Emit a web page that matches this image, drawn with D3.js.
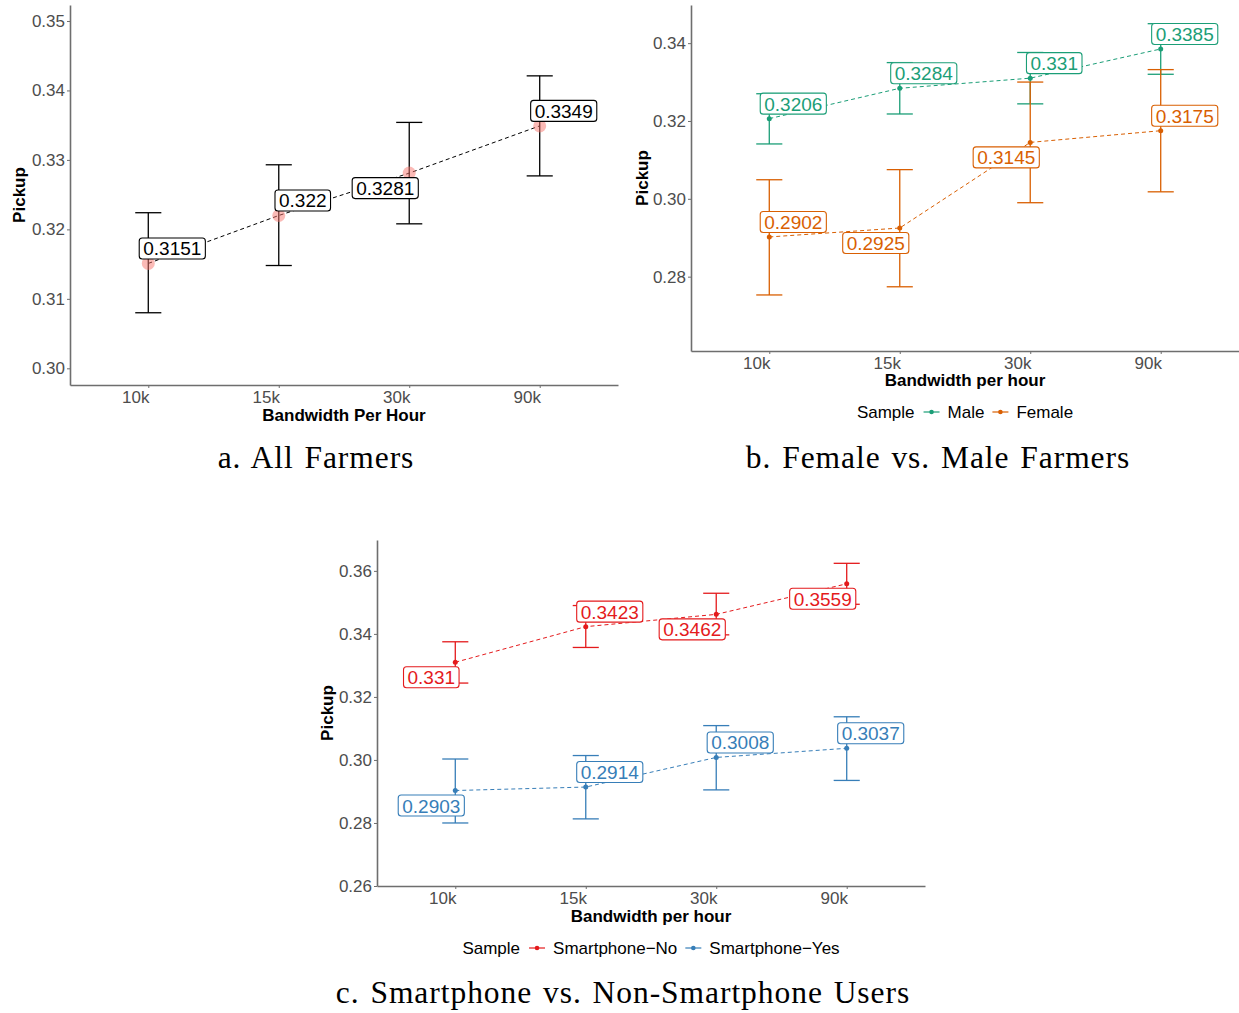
<!DOCTYPE html>
<html><head><meta charset="utf-8">
<script src="https://cdn.jsdelivr.net/npm/d3@7"></script>
<style>
body{margin:0;background:#fff}
text{font-family:"Liberation Sans",Arial,Helvetica,sans-serif}
</style>
</head><body>
<svg id="chart" width="1239" height="1013"></svg>
<script>
// ---------- data ----------
const categories = ["10k", "15k", "30k", "90k"];

// Panel a: all farmers
const allMean = [0.3151, 0.3220, 0.3281, 0.3349];
const allLow  = [0.3080, 0.3148, 0.3208, 0.3277];
const allHigh = [0.3224, 0.3293, 0.3354, 0.3421];
const allSide = [1, 1, -1, 1];
const yTicksA = [0.30, 0.31, 0.32, 0.33, 0.34, 0.35];

// Panel b: male vs female
const maleMean = [0.3206, 0.3284, 0.3310, 0.3385];
const maleLow  = [0.3141, 0.3218, 0.3244, 0.3320];
const maleHigh = [0.3270, 0.3350, 0.3376, 0.3450];
const maleSide = [1, 1, 1, 1];
const femaleMean = [0.2902, 0.2925, 0.3145, 0.3175];
const femaleLow  = [0.2753, 0.2774, 0.2990, 0.3018];
const femaleHigh = [0.3049, 0.3075, 0.3300, 0.3332];
const femaleSide = [1, -1, -1, 1];
const yTicksB = [0.28, 0.30, 0.32, 0.34];

// Panel c: smartphone users
const noMean = [0.3310, 0.3423, 0.3462, 0.3559];
const noLow  = [0.3244, 0.3357, 0.3397, 0.3494];
const noHigh = [0.3375, 0.3490, 0.3529, 0.3624];
const noSide = [-1, 1, -1, -1];
const yesMean = [0.2903, 0.2914, 0.3008, 0.3037];
const yesLow  = [0.2800, 0.2813, 0.2905, 0.2935];
const yesHigh = [0.3003, 0.3014, 0.3109, 0.3137];
const yesSide = [-1, 1, 1, 1];
const yTicksC = [0.26, 0.28, 0.30, 0.32, 0.34, 0.36];

const captions = ["a.  All Farmers", "b.  Female vs. Male Farmers", "c.  Smartphone vs. Non-Smartphone Users"];

// ---------- drawing ----------
const svg = d3.select("#chart");
const AXIS = "#6e6e6e", TICKTXT = "#4d4d4d";

function drawPanel(cfg) {
  const g = svg.append("g");
  const x = d3.scalePoint().domain(categories).range([cfg.left, cfg.right]).padding(0.6);
  const y = d3.scaleLinear().domain(cfg.yDomain).range([cfg.bottom, cfg.top]);
  const step = x.step();

  // axes
  const ya = g.append("g").attr("transform", `translate(${cfg.left},0)`)
    .call(d3.axisLeft(y).tickValues(cfg.yTicks).tickFormat(d3.format(".2f")).tickSize(3).tickSizeOuter(0).tickPadding(2));
  const xa = g.append("g").attr("transform", `translate(0,${cfg.bottom})`)
    .call(d3.axisBottom(x).tickSize(3).tickSizeOuter(0).tickPadding(2));
  [ya, xa].forEach(a => {
    a.select(".domain").attr("stroke", AXIS).attr("stroke-width", 1.6);
    a.selectAll(".tick line").attr("stroke", AXIS).attr("stroke-width", 1);
    a.selectAll(".tick text").attr("fill", TICKTXT).style("font-size", "17px")
      .style("font-family", '"Liberation Sans",Arial,sans-serif');
  });
  xa.selectAll(".tick text").attr("x", -13).attr("dy", "0.75em");

  // axis titles
  g.append("text").attr("x", (cfg.left + cfg.right) / 2).attr("y", cfg.bottom + cfg.xTitleDy)
    .attr("text-anchor", "middle").style("font-size", "17px").style("font-weight", "bold")
    .text(cfg.xTitle);
  g.append("text").attr("transform", `translate(${cfg.yTitleX},${(cfg.top + cfg.bottom) / 2}) rotate(-90)`)
    .attr("text-anchor", "middle").style("font-size", "17px").style("font-weight", "bold")
    .text("Pickup");

  // series
  const labelLayer = [];
  cfg.series.forEach(s => {
    const pts = categories.map((c, i) => ({c, m: s.mean[i], lo: s.low[i], hi: s.high[i], side: s.side[i]}));
    const eg = g.append("g").attr("stroke", s.color).attr("stroke-width", s.ebWidth).attr("fill", "none");
    pts.forEach(p => {
      const cx = x(p.c), hw = step * 0.1;
      eg.append("line").attr("x1", cx).attr("x2", cx).attr("y1", y(p.lo)).attr("y2", y(p.hi));
      eg.append("line").attr("x1", cx - hw).attr("x2", cx + hw).attr("y1", y(p.lo)).attr("y2", y(p.lo));
      eg.append("line").attr("x1", cx - hw).attr("x2", cx + hw).attr("y1", y(p.hi)).attr("y2", y(p.hi));
    });
    g.append("path").datum(pts)
      .attr("d", d3.line().x(p => x(p.c)).y(p => y(p.m)))
      .attr("fill", "none").attr("stroke", s.color).attr("stroke-width", 1)
      .attr("stroke-dasharray", "4,3");
    g.selectAll(null).data(pts).enter().append("circle")
      .attr("cx", p => x(p.c)).attr("cy", p => y(p.m))
      .attr("r", s.pointR).attr("fill", s.pointColor).attr("fill-opacity", s.pointOpacity);
    pts.forEach(p => labelLayer.push({p, s}));
  });

  // labels
  labelLayer.forEach(({p, s}) => {
    const cx = x(p.c) + p.side * 24, cy = y(p.m) - p.side * 15;
    const lg = g.append("g");
    const rect = lg.append("rect");
    const t = lg.append("text").attr("x", cx).attr("y", cy + 7).attr("text-anchor", "middle")
      .style("font-size", "19px").attr("fill", s.textColor).text(String(+p.m.toFixed(4)));
    const tw = t.node().getComputedTextLength();
    rect.attr("x", cx - tw / 2 - 4).attr("y", cy - 10.5).attr("width", tw + 8).attr("height", 21)
      .attr("rx", 3).attr("fill", "#fff").attr("stroke", s.textColor).attr("stroke-width", 1.1);
  });

  // legend
  if (cfg.legend) {
    const lgd = g.append("g");
    const ly = cfg.legendY;
    let cur = 0;
    const title = lgd.append("text").attr("x", cur).attr("y", ly + 6).style("font-size", "17px").text("Sample");
    cur += title.node().getComputedTextLength() + 9;
    cfg.series.forEach(s => {
      lgd.append("line").attr("x1", cur).attr("x2", cur + 16).attr("y1", ly).attr("y2", ly)
        .attr("stroke", s.color).attr("stroke-width", 1.2);
      lgd.append("circle").attr("cx", cur + 8).attr("cy", ly).attr("r", 2.3).attr("fill", s.color);
      cur += 24;
      const tt = lgd.append("text").attr("x", cur).attr("y", ly + 6).style("font-size", "17px").text(s.name);
      cur += tt.node().getComputedTextLength() + 8;
    });
    const total = cur - 8;
    lgd.attr("transform", `translate(${(cfg.left + cfg.right) / 2 - total / 2},0)`);
  }
}

drawPanel({
  left: 70, right: 618, top: 5, bottom: 385, yDomain: [0.2976, 0.3523], yTicks: yTicksA,
  xTitle: "Bandwidth Per Hour", xTitleDy: 36, yTitleX: 25,
  series: [{name: "All", mean: allMean, low: allLow, high: allHigh, side: allSide,
    color: "#000", ebWidth: 1.3, pointR: 6.5, pointColor: "#F8766D", pointOpacity: 0.5, textColor: "#000"}]
});

drawPanel({
  left: 691, right: 1239, top: 5, bottom: 351, yDomain: [0.2609, 0.3498], yTicks: yTicksB,
  xTitle: "Bandwidth per hour", xTitleDy: 35, yTitleX: 648,
  legend: true, legendY: 412,
  series: [
    {name: "Male", mean: maleMean, low: maleLow, high: maleHigh, side: maleSide,
     color: "#1B9E77", ebWidth: 1.3, pointR: 2.5, pointColor: "#1B9E77", pointOpacity: 1, textColor: "#1B9E77"},
    {name: "Female", mean: femaleMean, low: femaleLow, high: femaleHigh, side: femaleSide,
     color: "#D95F02", ebWidth: 1.3, pointR: 2.5, pointColor: "#D95F02", pointOpacity: 1, textColor: "#D95F02"}
  ]
});

drawPanel({
  left: 377, right: 925, top: 540, bottom: 886, yDomain: [0.26, 0.3698], yTicks: yTicksC,
  xTitle: "Bandwidth per hour", xTitleDy: 36, yTitleX: 333,
  legend: true, legendY: 948,
  series: [
    {name: "Smartphone\u2212No", mean: noMean, low: noLow, high: noHigh, side: noSide,
     color: "#E41A1C", ebWidth: 1.3, pointR: 2.5, pointColor: "#E41A1C", pointOpacity: 1, textColor: "#E41A1C"},
    {name: "Smartphone\u2212Yes", mean: yesMean, low: yesLow, high: yesHigh, side: yesSide,
     color: "#377EB8", ebWidth: 1.3, pointR: 2.5, pointColor: "#377EB8", pointOpacity: 1, textColor: "#377EB8"}
  ]
});

// captions
const capPos = [[316, 468], [938, 468], [623, 1003]];
captions.forEach((c, i) => {
  svg.append("text").attr("x", capPos[i][0]).attr("y", capPos[i][1]).attr("text-anchor", "middle")
    .style("font-family", '"Liberation Serif","Times New Roman",serif').style("font-size", "31.5px")
    .style("letter-spacing", "0.95px").style("word-spacing", "2px").text(c);
});
</script>
</body></html>
